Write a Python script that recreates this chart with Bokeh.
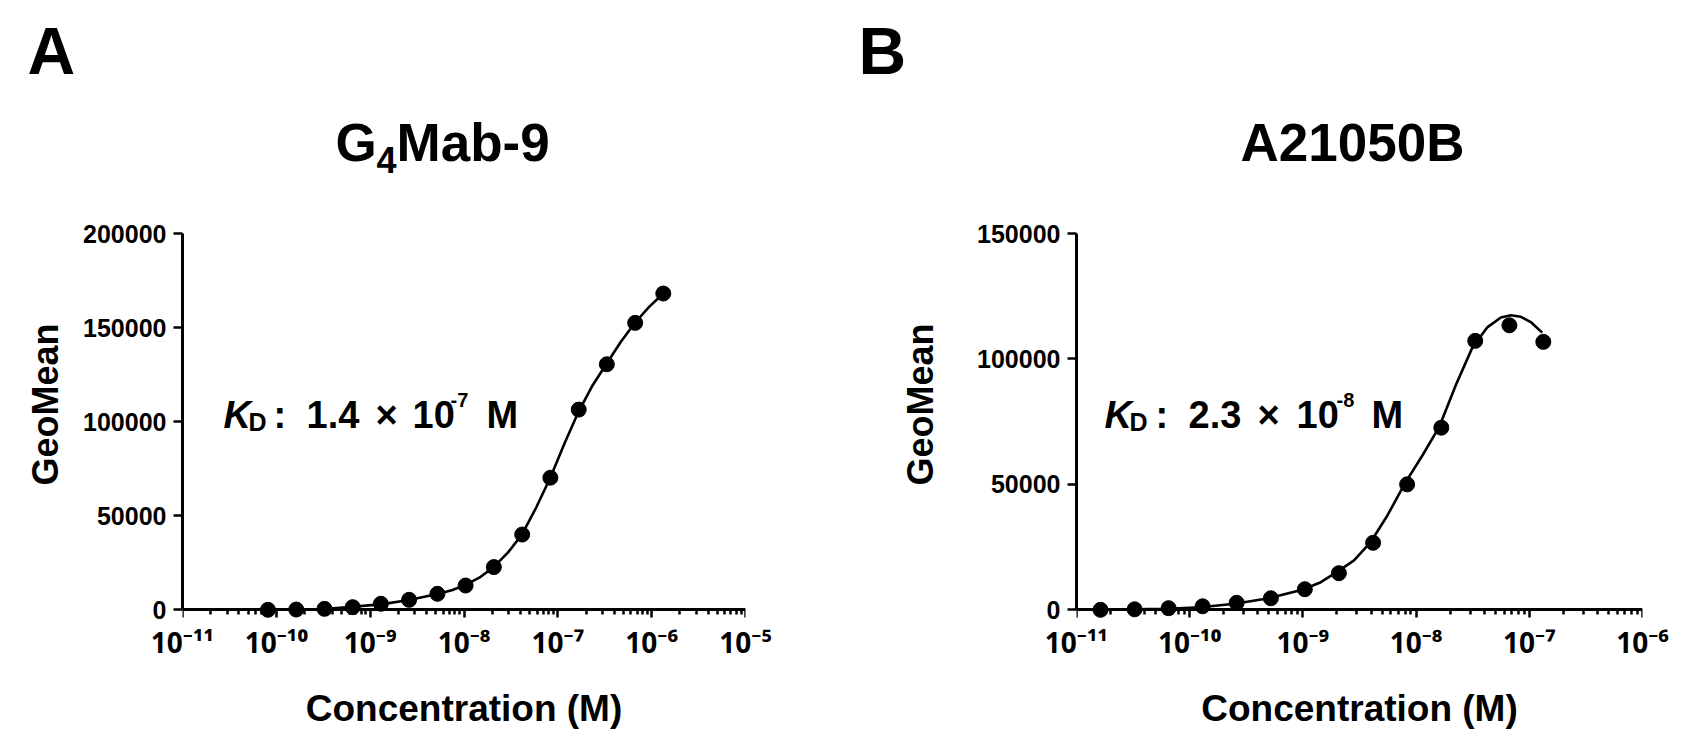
import math
from bokeh.plotting import figure
from bokeh.layouts import row, column
from bokeh.models import (Label, FixedTicker, CustomJSTickFormatter, Range1d, LogAxis,
                          LogScale, Title, BasicTickFormatter)
from bokeh.embed import file_html
from bokeh.resources import INLINE

FONT = "Liberation Sans"
SUP_FONT = "Noto Sans"

# ---------------- data ----------------
# Panel A : G4Mab-9
a_conc = [8.14e-11, 1.63e-10, 3.26e-10, 6.51e-10, 1.30e-9, 2.60e-9, 5.21e-9,
          1.04e-8, 2.08e-8, 4.17e-8, 8.33e-8, 1.67e-7, 3.33e-7, 6.67e-7, 1.33e-6]
a_geomean = [0, 150, 500, 1400, 3200, 5300, 8500, 12900, 22700, 40000,
             70200, 106400, 130500, 152500, 168100]
a_fit_conc = [8.1e-11, 3.3e-10, 1.3e-9, 2.6e-9, 5.2e-9, 7.4e-9, 1.04e-8, 1.47e-8,
              2.08e-8, 2.95e-8, 4.17e-8, 5.9e-8, 8.33e-8, 1.18e-7, 1.67e-7,
              2.36e-7, 3.33e-7, 4.7e-7, 6.67e-7, 9.4e-7, 1.33e-6]
a_fit_geomean = [0, 450, 2900, 5200, 8400, 10400, 13200, 17200, 22800, 30500,
                 40200, 54500, 70300, 88500, 105500, 119500, 131000, 142500,
                 152700, 161000, 168100]

# Panel B : A21050B
b_conc = [1.63e-11, 3.26e-11, 6.51e-11, 1.30e-10, 2.60e-10, 5.21e-10, 1.04e-9,
          2.08e-9, 4.17e-9, 8.33e-9, 1.67e-8, 3.33e-8, 6.67e-8, 1.33e-7]
b_geomean = [0, 200, 650, 1400, 2800, 4600, 8200, 14600, 26700, 50000,
             72600, 107200, 113400, 106800]
b_fit_conc = [1.6e-11, 6.3e-11, 1.25e-10, 2.5e-10, 5.0e-10, 9.9e-10, 1.44e-9,
              1.99e-9, 2.83e-9, 3.97e-9, 5.58e-9, 7.94e-9, 1.14e-8, 1.60e-8,
              2.24e-8, 3.16e-8, 4.28e-8, 5.61e-8, 6.87e-8, 8.43e-8, 1.03e-7, 1.3e-7]
b_fit_geomean = [0, 400, 1000, 2400, 4600, 8000, 11000, 15000, 19700, 27000,
                 37600, 50300, 61600, 72900, 89500, 104800, 112700, 116500,
                 117400, 116800, 114700, 110500]

# axis settings
a_xticks = [1e-11, 1e-10, 1e-9, 1e-8, 1e-7, 1e-6, 1e-5]
b_xticks = [1e-11, 1e-10, 1e-9, 1e-8, 1e-7, 1e-6]
a_yticks = [0, 50000, 100000, 150000, 200000]
b_yticks = [0, 50000, 100000, 150000]

title_a = ("G", "4", "Mab-9")
title_b = "A21050B"
kd_a = ("1.4", "-7")
kd_b = ("2.3", "-8")
x_title = "Concentration (M)"
y_title = "GeoMean"

TOTAL_W, TOTAL_H = 1702, 746
HDR_H = 190                       # header strip with panel letters and titles
FIG_W = TOTAL_W // 2
FIG_H = TOTAL_H - HDR_H
TOP, BOTTOM_Y = 233, 618          # frame top / bottom (page px)
PAD = 8.7                         # px between y=0 and frame bottom
LABEL_DY = 14                     # empirical baseline correction for Labels (38px text)

SUP_JS = """
const e = Math.round(Math.log10(tick));
const m = {'-':'\u207b','0':'\u2070','1':'\u00b9','2':'\u00b2','3':'\u00b3','4':'\u2074',
           '5':'\u2075','6':'\u2076','7':'\u2077','8':'\u2078','9':'\u2079'};
return '10' + String(e).split('').map(c => m[c]).join('');
"""
BLANK_JS = "return '';"


def make_panel(frame_left, frame_right, xticks, yticks, conc, gm, fconc, fgm, ylab_standoff):
    ymax = yticks[-1]
    frame_h = BOTTOM_Y - TOP
    ystart = -ymax * PAD / (frame_h - PAD)
    p = figure(width=FIG_W, height=FIG_H, x_axis_type=None, title=None,
               x_range=Range1d(xticks[0], xticks[-1]),
               y_range=Range1d(ystart, ymax),
               output_backend="svg", toolbar_location=None,
               min_border_left=frame_left, min_border_right=FIG_W - frame_right,
               min_border_top=TOP - HDR_H, min_border_bottom=TOTAL_H - BOTTOM_Y)
    p.x_scale = LogScale()
    p.outline_line_color = None
    p.grid.visible = False
    p.background_fill_color = "white"
    p.border_fill_color = "white"

    minors = [k * t for t in xticks[:-1] for k in range(2, 10)]
    # axis line + ticks, placed at y = 0
    xa = LogAxis(ticker=FixedTicker(ticks=xticks, minor_ticks=minors),
                 formatter=CustomJSTickFormatter(code=BLANK_JS))
    xa.fixed_location = 0
    xa.bounds = (xticks[0], xticks[-1])
    xa.axis_line_width = 3
    xa.major_tick_line_width = 2.5
    xa.minor_tick_line_width = 2.5
    xa.major_tick_out = 8
    xa.major_tick_in = 0
    xa.minor_tick_out = 5
    xa.minor_tick_in = 0
    xa.major_label_text_font_size = "1px"
    p.add_layout(xa, "below")

    # labels-only axis at the bottom edge of the frame
    xl = LogAxis(ticker=FixedTicker(ticks=xticks, minor_ticks=[]),
                 formatter=CustomJSTickFormatter(code=SUP_JS))
    xl.axis_line_color = None
    xl.major_tick_line_color = None
    xl.minor_tick_line_color = None
    xl.major_tick_out = 0
    xl.major_tick_in = 0
    xl.minor_tick_out = 0
    xl.minor_tick_in = 0
    xl.major_label_text_font = SUP_FONT
    xl.major_label_text_font_style = "bold"
    xl.major_label_text_font_size = "28px"
    xl.major_label_text_color = "black"
    xl.major_label_standoff = 4
    xl.axis_label = x_title
    xl.axis_label_text_font = FONT
    xl.axis_label_text_font_style = "bold"
    xl.axis_label_text_font_size = "37px"
    xl.axis_label_text_color = "black"
    xl.axis_label_standoff = 24
    p.add_layout(xl, "below")

    ya = p.yaxis[0]
    ya.ticker = FixedTicker(ticks=yticks, minor_ticks=[])
    ya.bounds = (0, ymax)
    ya.axis_line_width = 3
    ya.major_tick_line_width = 2.5
    ya.major_tick_out = 9
    ya.major_tick_in = 0
    ya.minor_tick_out = 0
    ya.minor_tick_in = 0
    ya.major_label_text_font = FONT
    ya.major_label_text_font_style = "bold"
    ya.major_label_text_font_size = "25px"
    ya.major_label_text_color = "black"
    ya.major_label_standoff = 7
    ya.formatter = BasicTickFormatter(use_scientific=False)

    # y axis title (starts 133 px above the frame bottom)
    p.add_layout(Title(text=y_title, align="left", offset=133, standoff=ylab_standoff,
                       text_font=FONT, text_font_style="bold", text_font_size="36px",
                       text_color="black"), "left")

    p.line(fconc, fgm, line_color="black", line_width=2.6)
    p.scatter(conc, gm, size=15, fill_color="black", line_color="black")
    return p


def text(p, fl, cx, cy, t, size, style="bold"):
    p.add_layout(Label(x=cx - fl, y=BOTTOM_Y - cy + LABEL_DY, x_units="screen", y_units="screen",
                       text=t, text_font=FONT, text_font_size=f"{size}px",
                       text_font_style=style, text_align="left",
                       text_baseline="alphabetic", text_color="black"))


# ---------------- header: panel letters and titles ----------------
hdr = figure(width=TOTAL_W, height=HDR_H, x_axis_type=None, y_axis_type=None, title=None,
             x_range=Range1d(0, TOTAL_W), y_range=Range1d(HDR_H, 0),
             output_backend="svg", toolbar_location=None, min_border=0)
hdr.outline_line_color = None
hdr.background_fill_color = "white"
hdr.border_fill_color = "white"


def htext(px, py, t, size):
    hdr.add_layout(Label(x=px, y=py - 0.37 * size, text=t, text_font=FONT,
                         text_font_size=f"{size}px", text_font_style="bold",
                         text_align="left", text_baseline="alphabetic", text_color="black"))


htext(27, 75, "A", 66)
htext(335, 162, title_a[0], 53)
htext(376, 173, title_a[1], 36)
htext(396, 162, title_a[2], 53)
htext(858, 75, "B", 66)
htext(1240, 162, title_b, 53)

# ---------------- Panel A ----------------
FLA, FRA = 182, 745
pA = make_panel(FLA, FRA, a_xticks, a_yticks, a_conc, a_geomean, a_fit_conc, a_fit_geomean, 30)
text(pA, FLA, 223, 428, "K", 38, style="bold italic")
text(pA, FLA, 248, 435, "D", 25)
text(pA, FLA, 273, 428, ":", 38)
text(pA, FLA, 306, 428, kd_a[0], 38)
text(pA, FLA, 375, 428, "\u00d7", 38)
text(pA, FLA, 412, 428, "10", 38)
text(pA, FLA, 450, 413, kd_a[1], 20)
text(pA, FLA, 486, 428, "M", 38)

# ---------------- Panel B ----------------
OFF = FIG_W
FLB, FRB = 1076 - OFF, 1642 - OFF
pB = make_panel(FLB, FRB, b_xticks, b_yticks, b_conc, b_geomean, b_fit_conc, b_fit_geomean, 68)
text(pB, FLB, 1104 - OFF, 428, "K", 38, style="bold italic")
text(pB, FLB, 1129 - OFF, 435, "D", 25)
text(pB, FLB, 1155 - OFF, 428, ":", 38)
text(pB, FLB, 1188 - OFF, 428, kd_b[0], 38)
text(pB, FLB, 1257 - OFF, 428, "\u00d7", 38)
text(pB, FLB, 1296 - OFF, 428, "10", 38)
text(pB, FLB, 1336 - OFF, 413, kd_b[1], 20)
text(pB, FLB, 1371 - OFF, 428, "M", 38)

layout = column(hdr, row(pA, pB))
open("out.html", "w").write(file_html(layout, INLINE))
